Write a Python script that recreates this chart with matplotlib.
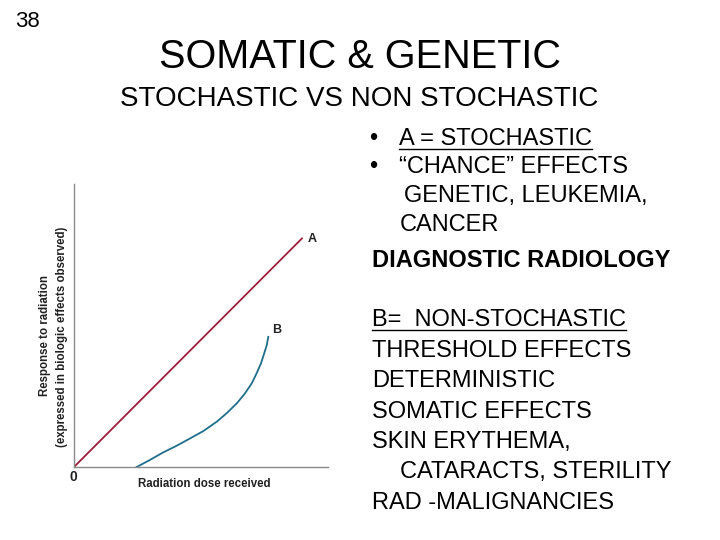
import matplotlib
matplotlib.use("Agg")
import matplotlib.pyplot as plt
from matplotlib.lines import Line2D
from matplotlib import font_manager

plt.rcParams['font.family'] = ['Liberation Sans', 'DejaVu Sans']

# data (dose vs response, arbitrary units 0..10)
dose_a = [0.0, 9.0]
resp_a = [0.0, 8.1]
dose_b = [2.47, 2.99, 3.52, 4.04, 4.57, 5.09, 5.62, 6.01, 6.41, 6.73,
          7.00, 7.19, 7.36, 7.49, 7.59, 7.65]
resp_b = [0.00, 0.25, 0.52, 0.75, 1.01, 1.27, 1.60, 1.90, 2.25, 2.60,
          2.96, 3.31, 3.66, 4.02, 4.31, 4.60]

W, H = 720, 540

def fx(px):
    return px / W

def fy(py):
    return 1 - py / H

narrow = 'Liberation Sans Narrow'
have_narrow = any(f.name == narrow for f in font_manager.fontManager.ttflist)
chart_font = [narrow, 'Liberation Sans', 'DejaVu Sans'] if have_narrow else ['Liberation Sans', 'DejaVu Sans']
cfs = 10 if have_narrow else 8.3

fig = plt.figure(figsize=(7.2, 5.4), dpi=100)
fig.patch.set_facecolor('white')

ax = fig.add_axes([fx(74), fy(467), (328 - 74) / W, (467 - 184) / H])
ax.plot(dose_a, resp_a, color='#9e1f3a', lw=1.3, solid_capstyle='butt')
ax.plot(dose_b, resp_b, color='#1f6f8b', lw=1.3)
ax.set_xlim(0, 10)
ax.set_ylim(0, 10)
ax.set_xticks([])
ax.set_yticks([])
for s in ['top', 'right']:
    ax.spines[s].set_visible(False)
for s in ['left', 'bottom']:
    ax.spines[s].set_color('#8a8a8a')
    ax.spines[s].set_linewidth(1.0)

ax.text(dose_a[-1] + 0.2, resp_a[-1] - 0.05, 'A', fontsize=9, fontweight='bold',
        family=chart_font, color='#222222', ha='left', va='center')
ax.text(dose_b[-1] + 0.15, resp_b[-1] + 0.25, 'B', fontsize=9, fontweight='bold',
        family=chart_font, color='#222222', ha='left', va='center')

fig.text(fx(73), fy(477), '0', fontsize=10, fontweight='bold', family=chart_font,
         color='#222222', ha='center', va='center')
fig.text(fx(204), fy(484), 'Radiation dose received', fontsize=cfs, fontweight='bold',
         family=chart_font, color='#222222', ha='center', va='center')
fig.text(fx(45), fy(336), 'Response to radiation', fontsize=cfs, fontweight='bold',
         family=chart_font, color='#222222', ha='center', va='center', rotation=90)
fig.text(fx(62), fy(337), '(expressed in biologic effects observed)', fontsize=cfs,
         fontweight='bold', family=chart_font, color='#222222', ha='center',
         va='center', rotation=90)

# slide texts
fig.text(fx(15), fy(27), '38', fontsize=16, ha='left', va='baseline')
fig.text(fx(360), fy(68), 'SOMATIC & GENETIC', fontsize=28.5, ha='center', va='baseline')
fig.text(fx(359), fy(106), 'STOCHASTIC VS NON STOCHASTIC', fontsize=20, ha='center', va='baseline')

fs = 17
underlined = []
fig.text(fx(369), fy(145), '•', fontsize=fs, ha='left', va='baseline')
underlined.append(fig.text(fx(399), fy(145), 'A = STOCHASTIC', fontsize=fs, ha='left', va='baseline'))
fig.text(fx(369), fy(173), '•', fontsize=fs, ha='left', va='baseline')
fig.text(fx(399), fy(173), '\u201cCHANCE\u201d EFFECTS', fontsize=fs, ha='left', va='baseline')
fig.text(fx(404), fy(202), 'GENETIC, LEUKEMIA,', fontsize=fs, ha='left', va='baseline')
fig.text(fx(400), fy(231), 'CANCER', fontsize=fs, ha='left', va='baseline')
fig.text(fx(372), fy(267), 'DIAGNOSTIC RADIOLOGY', fontsize=fs, fontweight='bold', ha='left', va='baseline')

underlined.append(fig.text(fx(372), fy(326), 'B=  NON-STOCHASTIC', fontsize=fs, ha='left', va='baseline'))
fig.text(fx(372), fy(357), 'THRESHOLD EFFECTS', fontsize=fs, ha='left', va='baseline')
fig.text(fx(372), fy(387), 'DETERMINISTIC', fontsize=fs, ha='left', va='baseline')
fig.text(fx(372), fy(418), 'SOMATIC EFFECTS', fontsize=fs, ha='left', va='baseline')
fig.text(fx(372), fy(448), 'SKIN ERYTHEMA,', fontsize=fs, ha='left', va='baseline')
fig.text(fx(400), fy(478), 'CATARACTS, STERILITY', fontsize=fs, ha='left', va='baseline')
fig.text(fx(372), fy(509), 'RAD -MALIGNANCIES', fontsize=fs, ha='left', va='baseline')

# underline the two headers
fig.canvas.draw()
r = fig.canvas.get_renderer()
for t in underlined:
    bb = t.get_window_extent(renderer=r)
    x0, y0 = t.get_position()
    yline = y0 - 3.5 / H
    fig.add_artist(Line2D([bb.x0 / W, bb.x1 / W], [yline, yline], color='black', lw=1.0))

fig.savefig('out.png', dpi=100, facecolor='white')
